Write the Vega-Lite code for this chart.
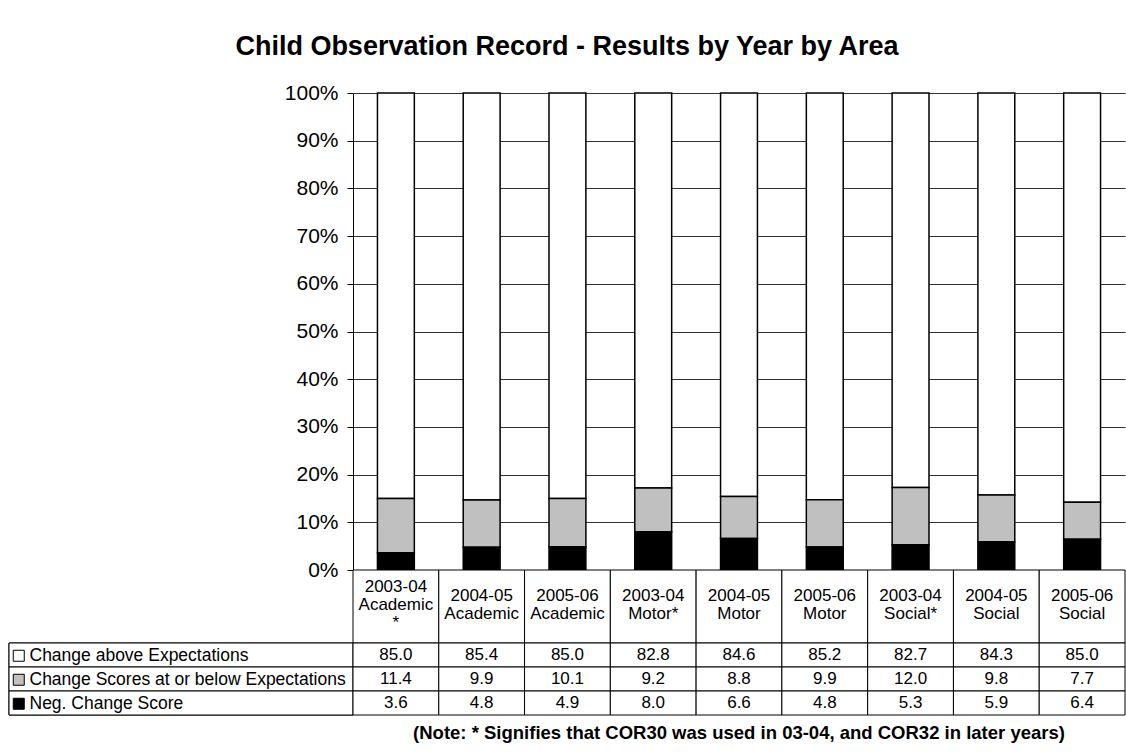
{
  "$schema": "https://vega.github.io/schema/vega-lite/v6.json",
  "background": "white",
  "padding": {"left": 8, "top": 33, "right": 0, "bottom": 2},
  "title": {
    "text": "Child Observation Record - Results by Year by Area",
    "font": "Liberation Sans",
    "fontSize": 27,
    "fontWeight": "bold",
    "color": "black",
    "anchor": "middle",
    "offset": 21
  },
  "config": {
    "view": {"stroke": null},
    "font": "Liberation Sans",
    "text": {"font": "Liberation Sans", "color": "black"}
  },
  "datasets": {
    "results": [
      {"cat": "2003-04 Academic *", "series": "Change above Expectations", "value": 85.0},
      {"cat": "2003-04 Academic *", "series": "Change Scores at or below Expectations", "value": 11.4},
      {"cat": "2003-04 Academic *", "series": "Neg. Change Score", "value": 3.6},
      {"cat": "2004-05 Academic", "series": "Change above Expectations", "value": 85.4},
      {"cat": "2004-05 Academic", "series": "Change Scores at or below Expectations", "value": 9.9},
      {"cat": "2004-05 Academic", "series": "Neg. Change Score", "value": 4.8},
      {"cat": "2005-06 Academic", "series": "Change above Expectations", "value": 85.0},
      {"cat": "2005-06 Academic", "series": "Change Scores at or below Expectations", "value": 10.1},
      {"cat": "2005-06 Academic", "series": "Neg. Change Score", "value": 4.9},
      {"cat": "2003-04 Motor*", "series": "Change above Expectations", "value": 82.8},
      {"cat": "2003-04 Motor*", "series": "Change Scores at or below Expectations", "value": 9.2},
      {"cat": "2003-04 Motor*", "series": "Neg. Change Score", "value": 8.0},
      {"cat": "2004-05 Motor", "series": "Change above Expectations", "value": 84.6},
      {"cat": "2004-05 Motor", "series": "Change Scores at or below Expectations", "value": 8.8},
      {"cat": "2004-05 Motor", "series": "Neg. Change Score", "value": 6.6},
      {"cat": "2005-06 Motor", "series": "Change above Expectations", "value": 85.2},
      {"cat": "2005-06 Motor", "series": "Change Scores at or below Expectations", "value": 9.9},
      {"cat": "2005-06 Motor", "series": "Neg. Change Score", "value": 4.8},
      {"cat": "2003-04 Social*", "series": "Change above Expectations", "value": 82.7},
      {"cat": "2003-04 Social*", "series": "Change Scores at or below Expectations", "value": 12.0},
      {"cat": "2003-04 Social*", "series": "Neg. Change Score", "value": 5.3},
      {"cat": "2004-05 Social", "series": "Change above Expectations", "value": 84.3},
      {"cat": "2004-05 Social", "series": "Change Scores at or below Expectations", "value": 9.8},
      {"cat": "2004-05 Social", "series": "Neg. Change Score", "value": 5.9},
      {"cat": "2005-06 Social", "series": "Change above Expectations", "value": 85.0},
      {"cat": "2005-06 Social", "series": "Change Scores at or below Expectations", "value": 7.7},
      {"cat": "2005-06 Social", "series": "Neg. Change Score", "value": 6.4}
    ],
    "cats": [
      {"cat": "2003-04 Academic *", "label": ["2003-04", "Academic", "*"]},
      {"cat": "2004-05 Academic", "label": ["2004-05", "Academic"]},
      {"cat": "2005-06 Academic", "label": ["2005-06", "Academic"]},
      {"cat": "2003-04 Motor*", "label": ["2003-04", "Motor*"]},
      {"cat": "2004-05 Motor", "label": ["2004-05", "Motor"]},
      {"cat": "2005-06 Motor", "label": ["2005-06", "Motor"]},
      {"cat": "2003-04 Social*", "label": ["2003-04", "Social*"]},
      {"cat": "2004-05 Social", "label": ["2004-05", "Social"]},
      {"cat": "2005-06 Social", "label": ["2005-06", "Social"]}
    ],
    "series": [
      {"series": "Change above Expectations"},
      {"series": "Change Scores at or below Expectations"},
      {"series": "Neg. Change Score"}
    ]
  },
  "columns": 2,
  "spacing": 0,
  "bounds": "flush",
  "resolve": {
    "scale": {"x": "independent", "y": "independent"},
    "legend": {"color": "independent"}
  },
  "concat": [
    {
      "width": 344,
      "height": 477,
      "data": {"values": [{}]},
      "mark": {"type": "text"},
      "encoding": {"text": {"value": ""}}
    },
    {
      "width": 772,
      "height": 477,
      "data": {"name": "results"},
      "transform": [
        {
          "calculate": "indexof(['Neg. Change Score', 'Change Scores at or below Expectations', 'Change above Expectations'], datum.series)",
          "as": "stackRank"
        }
      ],
      "mark": {"type": "bar", "stroke": "black", "strokeWidth": 1.5, "width": {"band": 0.43}},
      "encoding": {
        "x": {
          "field": "cat",
          "type": "nominal",
          "sort": ["2003-04 Academic *", "2004-05 Academic", "2005-06 Academic", "2003-04 Motor*", "2004-05 Motor", "2005-06 Motor", "2003-04 Social*", "2004-05 Social", "2005-06 Social"],
          "scale": {"padding": 0},
          "axis": null
        },
        "y": {
          "field": "value",
          "type": "quantitative",
          "stack": "normalize",
          "scale": {"domain": [0, 1]},
          "axis": {
            "title": null,
            "format": "%",
            "values": [0, 0.1, 0.2, 0.3, 0.4, 0.5, 0.6, 0.7, 0.8, 0.9, 1],
            "labelFont": "Liberation Sans",
            "labelFontSize": 21,
            "labelColor": "black",
            "labelPadding": 9,
            "tickSize": 6,
            "tickColor": "black",
            "domainColor": "black",
            "grid": true,
            "gridColor": "#333333",
            "gridWidth": 1
          }
        },
        "order": {"field": "stackRank", "type": "quantitative", "sort": "ascending"},
        "color": {
          "field": "series",
          "type": "nominal",
          "scale": {
            "domain": ["Change above Expectations", "Change Scores at or below Expectations", "Neg. Change Score"],
            "range": ["#ffffff", "#c0c0c0", "#000000"]
          },
          "legend": null
        }
      }
    },
    {
      "width": 344,
      "height": 73,
      "data": {"values": [{}]},
      "mark": {"type": "text"},
      "encoding": {"text": {"value": ""}}
    },
    {
      "width": 772,
      "height": 73,
      "data": {"name": "cats"},
      "encoding": {
        "x": {
          "field": "cat",
          "type": "nominal",
          "sort": ["2003-04 Academic *", "2004-05 Academic", "2005-06 Academic", "2003-04 Motor*", "2004-05 Motor", "2005-06 Motor", "2003-04 Social*", "2004-05 Social", "2005-06 Social"],
          "scale": {"padding": 0},
          "axis": null
        }
      },
      "layer": [
        {"mark": {"type": "rect", "fill": "white", "stroke": "black", "strokeWidth": 1}},
        {
          "transform": [{"filter": "length(datum.label) < 3"}],
          "mark": {"type": "text", "fontSize": 17, "lineHeight": 18, "baseline": "middle", "dy": -11, "color": "black"},
          "encoding": {"text": {"field": "label"}}
        },
        {
          "transform": [{"filter": "length(datum.label) >= 3"}],
          "mark": {"type": "text", "fontSize": 17, "lineHeight": 18, "baseline": "middle", "dy": -20, "color": "black"},
          "encoding": {"text": {"field": "label"}}
        }
      ]
    },
    {
      "width": 344,
      "height": 72,
      "data": {"name": "series"},
      "encoding": {
        "y": {
          "field": "series",
          "type": "nominal",
          "sort": ["Change above Expectations", "Change Scores at or below Expectations", "Neg. Change Score"],
          "scale": {"padding": 0},
          "axis": null
        }
      },
      "layer": [
        {
          "mark": {"type": "rect", "stroke": "black", "strokeWidth": 1},
          "encoding": {
            "color": {
              "field": "series",
              "type": "nominal",
              "scale": {
                "domain": ["Change above Expectations", "Change Scores at or below Expectations", "Neg. Change Score"],
                "range": ["#ffffff", "#c0c0c0", "#000000"]
              },
              "legend": {
                "title": null,
                "orient": "none",
                "legendX": 1,
                "legendY": 4,
                "padding": 0,
                "symbolType": "square",
                "symbolSize": 121,
                "symbolStrokeColor": "black",
                "symbolStrokeWidth": 1,
                "symbolOpacity": 1,
                "labelFont": "Liberation Sans",
                "labelFontSize": 17.5,
                "labelColor": "black",
                "labelLimit": 400,
                "labelOffset": 2,
                "rowPadding": 5
              }
            }
          }
        },
        {"mark": {"type": "rect", "fill": "white", "stroke": "black", "strokeWidth": 1}}
      ]
    },
    {
      "width": 772,
      "height": 72,
      "data": {"name": "results"},
      "title": {
        "text": "(Note: * Signifies that COR30 was used in 03-04, and COR32 in later years)",
        "orient": "bottom",
        "anchor": "middle",
        "font": "Liberation Sans",
        "fontSize": 18.5,
        "fontWeight": "bold",
        "color": "black",
        "offset": 8
      },
      "encoding": {
        "x": {
          "field": "cat",
          "type": "nominal",
          "sort": ["2003-04 Academic *", "2004-05 Academic", "2005-06 Academic", "2003-04 Motor*", "2004-05 Motor", "2005-06 Motor", "2003-04 Social*", "2004-05 Social", "2005-06 Social"],
          "scale": {"padding": 0},
          "axis": null
        },
        "y": {
          "field": "series",
          "type": "nominal",
          "sort": ["Change above Expectations", "Change Scores at or below Expectations", "Neg. Change Score"],
          "scale": {"padding": 0},
          "axis": null
        }
      },
      "layer": [
        {"mark": {"type": "rect", "fill": "white", "stroke": "black", "strokeWidth": 1}},
        {
          "mark": {"type": "text", "fontSize": 17, "baseline": "middle", "color": "black"},
          "encoding": {"text": {"field": "value", "type": "quantitative", "format": ".1f"}}
        }
      ]
    }
  ]
}
